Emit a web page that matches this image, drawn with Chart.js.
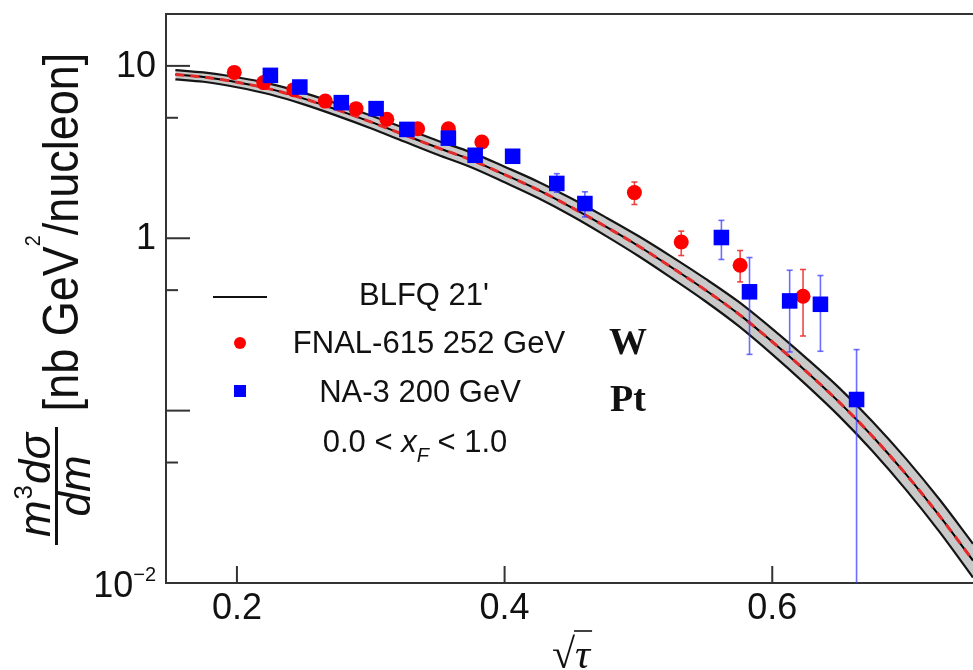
<!DOCTYPE html>
<html>
<head>
<meta charset="utf-8">
<script src="https://cdn.jsdelivr.net/npm/chart.js@4.4.1/dist/chart.umd.min.js"></script>
<style>
  html, body { margin: 0; padding: 0; background: #fff; }
  #wrap { width: 973px; height: 670px; }
</style>
</head>
<body>
<div id="wrap"><canvas id="dyChart" width="973" height="670"></canvas></div>
<script>
// BLFQ 21' band (centre, upper and lower edge)
const curveX = [0.154, 0.175, 0.2, 0.225, 0.25, 0.275, 0.3, 0.325, 0.35, 0.375, 0.4, 0.425, 0.45,
  0.475, 0.5, 0.525, 0.55, 0.575, 0.6, 0.625, 0.65, 0.675, 0.7, 0.725, 0.75];
const curveMid = [8.9, 8.61, 8.04, 7.33, 6.46, 5.56, 4.73, 3.98, 3.35, 2.85, 2.34, 1.91, 1.51,
  1.175, 0.902, 0.676, 0.501, 0.363, 0.251, 0.170, 0.112, 0.0708, 0.0427, 0.0245, 0.0135];
const curveUp = [9.46, 9.16, 8.59, 7.87, 6.97, 6.03, 5.15, 4.36, 3.68, 3.15, 2.60, 2.13, 1.70,
  1.33, 1.03, 0.780, 0.583, 0.427, 0.298, 0.203, 0.1355, 0.0863, 0.0525, 0.0305, 0.0169];
const curveLow = [8.36, 8.09, 7.52, 6.82, 5.98, 5.13, 4.35, 3.64, 3.05, 2.58, 2.11, 1.71, 1.35,
  1.04, 0.789, 0.586, 0.431, 0.309, 0.212, 0.142, 0.0929, 0.0581, 0.0347, 0.0198, 0.01076];

// FNAL-615 252 GeV (W)
const fnalX = [0.198, 0.220, 0.2425, 0.266, 0.289, 0.312, 0.335, 0.358, 0.383, 0.497, 0.532, 0.576, 0.623];
const fnalY = [9.17, 8.0, 7.28, 6.25, 5.65, 4.9, 4.32, 4.32, 3.62, 1.84, 0.952, 0.697, 0.461];
const fnalLo = [null, null, null, null, null, null, null, null, null, 1.57, 0.794, 0.558, 0.271];
const fnalHi = [null, null, null, null, null, null, null, null, null, 2.12, 1.10, 0.849, 0.659];

// NA-3 200 GeV (Pt)
const na3X = [0.225, 0.247, 0.278, 0.304, 0.327, 0.358, 0.378, 0.406, 0.439, 0.460, 0.562, 0.583, 0.613, 0.636, 0.663];
const na3Y = [8.81, 7.54, 6.12, 5.65, 4.28, 3.81, 3.03, 2.99, 2.08, 1.59, 1.01, 0.489, 0.433, 0.414, 0.116];
const na3Lo = [null, null, null, null, null, null, null, null, 1.85, 1.33, 0.753, 0.212, 0.219, 0.221, 0.004];
const na3Hi = [null, null, null, null, null, null, null, null, 2.37, 1.86, 1.27, 0.773, 0.652, 0.608, 0.226];

// axis ticks
const xTicks = [0.2, 0.4, 0.6];
const xTickLabels = ['0.2', '0.4', '0.6'];
const yMajor = [0.01, 0.1, 1, 10];
const yMinor = [0.05, 0.5, 5];
const yLabelVals = [10, 1, 0.01];
const yLabelBase = ['10', '1', '10'];
const yLabelSup = ['', '', '\u22122'];

const SANS = "'Liberation Sans', Arial, sans-serif";
const SERIF = "'Liberation Serif', 'Times New Roman', serif";

const pts = (xs, ys) => xs.map((x, i) => ({ x: x, y: ys[i] }));

function line(ctx, x1, y1, x2, y2) {
  ctx.beginPath();
  ctx.moveTo(x1, y1);
  ctx.lineTo(x2, y2);
  ctx.stroke();
}

function errBars(chart, xs, lo, hi, color) {
  const { ctx, chartArea: a, scales: { x, y } } = chart;
  ctx.save();
  ctx.beginPath();
  ctx.rect(a.left, a.top, a.right - a.left, a.bottom - a.top);
  ctx.clip();
  ctx.strokeStyle = color;
  ctx.lineWidth = 1.6;
  xs.forEach((v, i) => {
    if (lo[i] == null) return;
    const px = x.getPixelForValue(v);
    const y1 = y.getPixelForValue(lo[i]);
    const y2 = y.getPixelForValue(hi[i]);
    line(ctx, px, y1, px, y2);
    line(ctx, px - 3, y1, px + 3, y1);
    line(ctx, px - 3, y2, px + 3, y2);
  });
  ctx.restore();
}

const decor = {
  id: 'decor',
  afterDatasetDraw(chart, args) {
    // error bars go over the band but under the markers
    if (args.index !== 3) return;
    errBars(chart, fnalX, fnalLo, fnalHi, 'rgba(235,40,40,0.85)');
    errBars(chart, na3X, na3Lo, na3Hi, 'rgba(60,60,255,0.75)');
  },
  afterDraw(chart) {
    const { ctx, chartArea: a, scales: { x, y } } = chart;
    ctx.save();

    // frame top + inner ticks
    ctx.strokeStyle = '#333';
    ctx.lineWidth = 2;
    line(ctx, a.left, a.top, a.right, a.top);
    yMajor.forEach(v => { const py = y.getPixelForValue(v); line(ctx, a.left, py, a.left + 24, py); });
    yMinor.forEach(v => { const py = y.getPixelForValue(v); line(ctx, a.left, py, a.left + 12, py); });
    xTicks.forEach(v => { const px = x.getPixelForValue(v); line(ctx, px, a.bottom, px, a.bottom - 17); });

    // tick labels
    ctx.fillStyle = '#111';
    ctx.font = '36px ' + SANS;
    ctx.textBaseline = 'middle';
    ctx.textAlign = 'center';
    xTicks.forEach((v, i) => ctx.fillText(xTickLabels[i], x.getPixelForValue(v), 609));

    ctx.textAlign = 'left';
    yLabelVals.forEach((v, i) => {
      const py = y.getPixelForValue(v);
      ctx.font = '20px ' + SANS;
      const sw = yLabelSup[i] ? ctx.measureText(yLabelSup[i]).width : 0;
      ctx.font = '36px ' + SANS;
      const bw = ctx.measureText(yLabelBase[i]).width;
      const right = 156;
      if (sw) {
        const bx = right - sw - bw;
        ctx.fillText(yLabelBase[i], bx, py + 4);
        ctx.font = '20px ' + SANS;
        ctx.fillText(yLabelSup[i], right - sw, py - 8);
      } else {
        ctx.fillText(yLabelBase[i], right - bw, py + 1);
      }
    });

    // y title: fraction m^3 dσ / dm  [nb GeV^2/nucleon]
    ctx.textBaseline = 'alphabetic';
    ctx.save();
    ctx.translate(0, 486);
    ctx.rotate(-Math.PI / 2);
    ctx.font = 'italic 44px ' + SANS;
    const mW = ctx.measureText('m').width;
    ctx.font = '26px ' + SANS;
    const tW = ctx.measureText('3').width;
    ctx.font = 'italic 44px ' + SANS;
    const dsW = ctx.measureText('d\u03c3').width;
    let nx = -(mW + tW + dsW) / 2;
    ctx.fillText('m', nx, 50);
    ctx.font = '26px ' + SANS;
    ctx.fillText('3', nx + mW + 1, 32);
    ctx.font = 'italic 44px ' + SANS;
    ctx.fillText('d\u03c3', nx + mW + tW + 2, 50);
    ctx.textAlign = 'center';
    ctx.fillText('dm', 0, 90);
    ctx.fillRect(-59, 55, 118, 3);
    ctx.restore();

    ctx.save();
    ctx.translate(78, 232);
    ctx.rotate(-Math.PI / 2);
    ctx.scale(0.9, 1);
    ctx.font = '50px ' + SANS;
    const s1 = '[nb GeV', s3 = '/nucleon]';
    const w1 = ctx.measureText(s1).width, w3 = ctx.measureText(s3).width;
    ctx.font = '22px ' + SANS;
    const w2 = ctx.measureText('2').width;
    let bx = -(w1 + w2 + w3) / 2;
    ctx.textAlign = 'left';
    ctx.font = '50px ' + SANS;
    ctx.fillText(s1, bx, 0);
    ctx.font = '22px ' + SANS;
    ctx.fillText('2', bx + w1, -38);
    ctx.font = '50px ' + SANS;
    ctx.fillText(s3, bx + w1 + w2, 0);
    ctx.restore();

    // x title: sqrt(tau)
    ctx.font = '42px ' + SERIF;
    ctx.textAlign = 'left';
    const rw = ctx.measureText('\u221a').width;
    ctx.fillText('\u221a', 552, 668);
    ctx.font = 'italic 42px ' + SERIF;
    const tauW = ctx.measureText('\u03c4').width;
    ctx.fillText('\u03c4', 552 + rw, 668);
    ctx.lineWidth = 1.6;
    ctx.strokeStyle = '#111';
    line(ctx, 552 + rw - 1, 631, 552 + rw + tauW + 2, 631);

    // legend
    ctx.strokeStyle = '#111';
    ctx.lineWidth = 2;
    line(ctx, 213, 297, 267, 297);
    ctx.fillStyle = '#ff0000';
    ctx.beginPath();
    ctx.arc(240, 343, 6, 0, Math.PI * 2);
    ctx.fill();
    ctx.fillStyle = '#0000ff';
    ctx.fillRect(234, 385, 12, 12);

    ctx.fillStyle = '#111';
    ctx.font = '31px ' + SANS;
    ctx.textAlign = 'center';
    ctx.textBaseline = 'middle';
    ctx.fillText("BLFQ 21'", 424, 296);
    ctx.fillText('FNAL-615 252 GeV', 429, 344);
    ctx.fillText('NA-3 200 GeV', 420, 393);

    // 0.0 < x_F < 1.0
    ctx.textAlign = 'left';
    const p1 = '0.0 < ', p3 = ' < 1.0';
    const q1 = ctx.measureText(p1).width, q3 = ctx.measureText(p3).width;
    ctx.font = 'italic 31px ' + SANS;
    const qx = ctx.measureText('x').width;
    ctx.font = 'italic 20px ' + SANS;
    const qf = ctx.measureText('F').width;
    let lx = 415 - (q1 + qx + qf + q3) / 2;
    ctx.font = '31px ' + SANS;
    ctx.fillText(p1, lx, 443);
    ctx.font = 'italic 31px ' + SANS;
    ctx.fillText('x', lx + q1, 443);
    ctx.font = 'italic 20px ' + SANS;
    ctx.fillText('F', lx + q1 + qx, 456);
    ctx.font = '31px ' + SANS;
    ctx.fillText(p3, lx + q1 + qx + qf, 443);

    // targets
    ctx.font = 'bold 38px ' + SERIF;
    ctx.fillText('W', 609, 344);
    ctx.fillText('Pt', 610, 401);

    ctx.restore();
  }
};

const ctx = document.getElementById('dyChart').getContext('2d');
new Chart(ctx, {
  type: 'line',
  data: {
    datasets: [
      { label: 'band upper', data: pts(curveX, curveUp), borderColor: '#151515', borderWidth: 2.2,
        backgroundColor: '#c9c9c9', fill: '+1', pointRadius: 0, cubicInterpolationMode: 'monotone', order: 6 },
      { label: 'band lower', data: pts(curveX, curveLow), borderColor: '#151515', borderWidth: 2.2,
        fill: false, pointRadius: 0, cubicInterpolationMode: 'monotone', order: 5 },
      { label: "BLFQ 21'", data: pts(curveX, curveMid), borderColor: '#000', borderWidth: 2,
        fill: false, pointRadius: 0, cubicInterpolationMode: 'monotone', order: 4 },
      { label: 'BLFQ dashed', data: pts(curveX, curveMid), borderColor: '#e32a2a', borderWidth: 3,
        borderDash: [9, 6], fill: false, pointRadius: 0, cubicInterpolationMode: 'monotone', order: 3 },
      { label: 'FNAL-615 252 GeV', data: pts(fnalX, fnalY), showLine: false, pointStyle: 'circle',
        pointRadius: 7.5, pointBackgroundColor: '#ff0000', pointBorderWidth: 0, order: 2 },
      { label: 'NA-3 200 GeV', data: pts(na3X, na3Y), showLine: false, pointStyle: 'rect',
        pointRadius: 11, pointBackgroundColor: '#0000ff', pointBorderWidth: 0, order: 1 }
    ]
  },
  options: {
    responsive: false,
    animation: false,
    devicePixelRatio: 1,
    layout: { autoPadding: false, padding: { top: 14, right: 0, left: 0, bottom: 0 } },
    plugins: { legend: { display: false }, tooltip: { enabled: false } },
    scales: {
      x: {
        type: 'linear', min: 0.147, max: 0.75,
        ticks: { display: false },
        grid: { display: false, drawTicks: false },
        border: { color: '#333', width: 2 },
        afterFit: s => { s.height = 87; }
      },
      y: {
        type: 'logarithmic', min: 0.01, max: 20,
        ticks: { display: false },
        grid: { display: false, drawTicks: false },
        border: { color: '#333', width: 2 },
        afterFit: s => { s.width = 166; }
      }
    }
  },
  plugins: [decor]
});
</script>
</body>
</html>
